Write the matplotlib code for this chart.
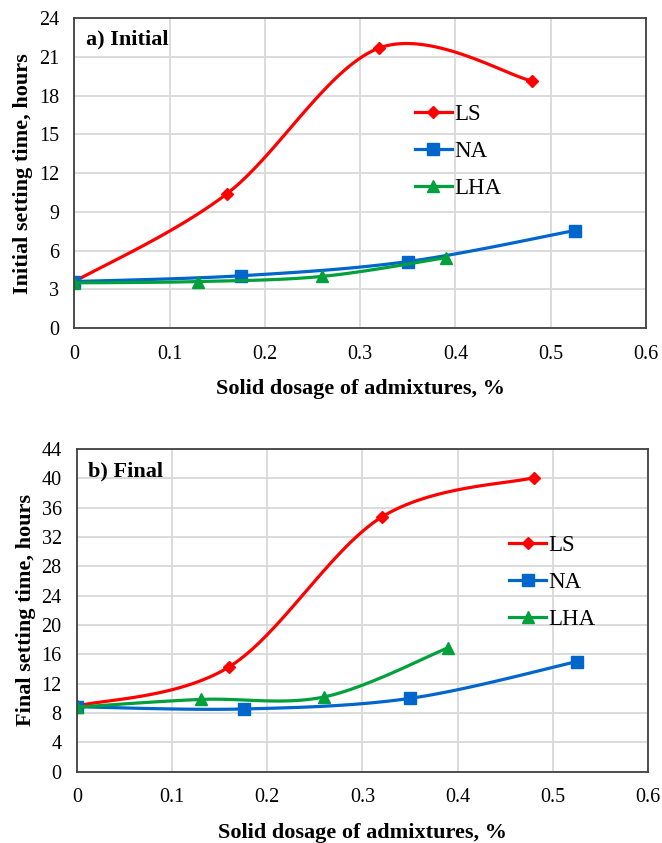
import numpy as np
import matplotlib.pyplot as plt

plt.rcParams['font.family'] = ['Liberation Serif', 'DejaVu Serif']

# Dosages (%) and setting times (hours)
ls_x = [0, 0.16, 0.32, 0.48]
na_x = [0, 0.175, 0.35, 0.525]
lha_x = [0, 0.13, 0.26, 0.39]

ls_init = [3.6, 10.4, 21.7, 19.15]
na_init = [3.6, 4.05, 5.15, 7.55]
lha_init = [3.5, 3.6, 4.0, 5.45]

ls_final = [8.95, 14.3, 34.7, 40.1]
na_final = [8.85, 8.55, 10.0, 15.0]
lha_final = [8.8, 9.85, 10.2, 16.9]

x_ticks = [0, 0.1, 0.2, 0.3, 0.4, 0.5, 0.6]
x_tick_labels = ['0', '0.1', '0.2', '0.3', '0.4', '0.5', '0.6']

RED = '#ff0000'
BLUE = '#0066cc'
GREEN = '#00a03c'


def smooth(ax, x, y, n=40):
    # Excel style smoothed line: Bezier segments with Catmull-Rom control points,
    # computed in display space so the curve shape does not depend on the scales
    pts = ax.transData.transform(np.column_stack([x, y]))
    p = np.vstack([pts[0], pts, pts[-1]])
    out = []
    t = np.linspace(0, 1, n)[:, None]
    for i in range(1, len(p) - 2):
        p0, p1, p2, p3 = p[i - 1], p[i], p[i + 1], p[i + 2]
        c1 = p1 + (p2 - p0) / 6
        c2 = p2 - (p3 - p1) / 6
        seg = ((1 - t) ** 3 * p1 + 3 * (1 - t) ** 2 * t * c1
               + 3 * (1 - t) * t ** 2 * c2 + t ** 3 * p2)
        out.append(seg)
    out = np.vstack(out)
    data = ax.transData.inverted().transform(out)
    return data[:, 0], data[:, 1]


def draw(ax, series, ymax, ystep, ylabel, tag, leg_anchor):
    ax.set_xlim(0, 0.6)
    ax.set_ylim(0, ymax)
    ax.set_xticks(x_ticks)
    ax.set_xticklabels(x_tick_labels)
    ax.set_yticks(np.arange(0, ymax + 1, ystep))
    ax.grid(True, color='#d9d9d9', lw=1.3)
    ax.set_axisbelow(True)
    ax.tick_params(length=0, labelsize=14.5)
    ax.tick_params(axis='y', pad=11)
    ax.tick_params(axis='x', pad=12)
    for s in ax.spines.values():
        s.set_color('#404040')
        s.set_linewidth(1.3)

    for x, y, col, mk, ms, name in series:
        xs, ys = smooth(ax, x, y)
        ax.plot(xs, ys, color=col, lw=2.3)
        ax.plot(x, y, ls='none', marker=mk, ms=ms, color=col)
        ax.plot([], [], color=col, lw=2.3, marker=mk, ms=ms, label=name)

    ax.set_xlabel('Solid dosage of admixtures, %', fontsize=16, fontweight='bold', labelpad=11)
    ax.set_ylabel(ylabel, fontsize=16, fontweight='bold', labelpad=4)
    ax.text(0.02, 0.93, tag, transform=ax.transAxes, fontsize=16, fontweight='bold',
            va='center', ha='left')
    ax.legend(loc='upper left', bbox_to_anchor=leg_anchor, frameon=False, fontsize=16.5,
              handlelength=1.6, handletextpad=0.1, labelspacing=0.7, borderpad=0)


fig = plt.figure(figsize=(6.62, 8.43), dpi=100)
ax1 = fig.add_axes([0.1124, 0.6109, 0.8634, 0.3674])
ax2 = fig.add_axes([0.1163, 0.0846, 0.8625, 0.3828])

draw(ax1, [(ls_x, ls_init, RED, 'D', 6, 'LS'),
           (na_x, na_init, BLUE, 's', 8, 'NA'),
           (lha_x, lha_init, GREEN, '^', 8, 'LHA')],
     24, 3, 'Initial setting time, hours', 'a) Initial', (0.576, 0.76))
draw(ax2, [(ls_x, ls_final, RED, 'D', 6, 'LS'),
           (na_x, na_final, BLUE, 's', 8, 'NA'),
           (lha_x, lha_final, GREEN, '^', 8, 'LHA')],
     44, 4, 'Final setting time, hours', 'b) Final', (0.737, 0.77))

fig.savefig('out.png', dpi=100)
